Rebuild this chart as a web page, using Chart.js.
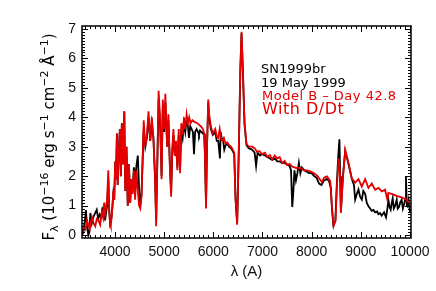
<!DOCTYPE html>
<html>
<head>
<meta charset="utf-8">
<script src="https://cdn.jsdelivr.net/npm/chart.js@4"></script>
<style>
  html, body { margin: 0; padding: 0; background: #fff; }
  canvas { display: block; }
</style>
</head>
<body>
<canvas id="spectrumChart" width="436" height="291"></canvas>
<script>
// Model B (day 42.8, with D/Dt) - wavelength (A) and flux
const modelWave = [
  3330, 3367, 3400, 3433, 3460, 3487, 3510, 3533, 3565, 3600,
  3630, 3667, 3700, 3733, 3760, 3780, 3800, 3840, 3865, 3880,
  3900, 3915, 3933, 3950, 3967, 3985, 4005, 4020, 4040, 4055,
  4075, 4100, 4120, 4140, 4160, 4190, 4210, 4235, 4260, 4285,
  4310, 4335, 4360, 4385, 4410, 4440, 4465, 4490, 4515, 4540,
  4585, 4617, 4650, 4683, 4717, 4750, 4783, 4815, 4838, 4860,
  4888, 4920, 4948, 4973, 5000, 5025, 5062, 5087, 5115, 5142,
  5165, 5189, 5217, 5242, 5269, 5297, 5324, 5349, 5377, 5404,
  5430, 5457, 5484, 5510, 5537, 5575, 5609, 5675, 5742, 5790,
  5815, 5830, 5852, 5872, 5897, 5915, 5950, 5990, 6040, 6070,
  6100, 6130, 6160, 6185, 6215, 6250, 6285, 6320, 6360, 6395,
  6425, 6452, 6485, 6520, 6550, 6574, 6600, 6635, 6675, 6720,
  6790, 6840, 6890, 6940, 6990, 7050, 7095, 7150, 7196, 7250,
  7298, 7350, 7400, 7450, 7500, 7550, 7600, 7650, 7700, 7770,
  7838, 7900, 7973, 8050, 8120, 8176, 8210, 8250, 8311, 8378,
  8412, 8446, 8487, 8513, 8550, 8572, 8594, 8635, 8682, 8750,
  8817, 8885, 8952, 9020, 9088, 9155, 9222, 9290, 9357, 9425,
  9492, 9540, 9560, 9627, 9729, 9830, 9931, 10000
]
const modelFlux = [
  0.0, 0.3, 0.2, 0.5, 0.35, 0.2, 0.45, 0.6, 0.4, 0.3,
  0.55, 0.5, 0.35, 0.8, 0.6, 1.1, 0.7, 1.2, 2.2, 1.0,
  0.4, 0.3, 0.6, 1.0, 1.5, 1.2, 2.5, 1.9, 3.45, 1.7,
  2.7, 3.6, 2.0, 3.8, 2.4, 4.2, 1.5, 3.0, 1.0, 2.4,
  1.1, 1.9, 1.4, 2.2, 1.2, 2.2, 1.5, 1.0, 0.9, 1.3,
  3.9, 3.0, 3.4, 4.2, 3.2, 4.0, 3.2, 1.9, 0.3, 2.4,
  4.9, 3.9, 1.9, 4.6, 3.6, 4.8, 3.0, 4.1, 2.4, 1.3,
  2.9, 3.6, 2.7, 3.2, 2.2, 3.6, 2.1, 3.8, 3.4, 4.0,
  3.6, 4.1, 3.8, 4.0, 3.8, 3.9, 3.85, 3.8, 3.7, 3.6,
  3.45, 2.8, 0.9, 3.0, 4.6, 4.1, 3.7, 3.45, 3.6, 3.35,
  3.3, 3.6, 3.25, 3.2, 3.3, 3.1, 3.15, 3.05, 3.0, 2.9,
  2.8, 1.2, 0.35, 3.0, 5.7, 6.9, 5.7, 3.8, 3.1, 3.0,
  3.0, 2.95, 2.83, 2.85, 2.75, 2.8, 2.66, 2.72, 2.57, 2.7,
  2.6, 2.65, 2.44, 2.52, 2.38, 2.42, 2.33, 2.3, 2.27, 2.28,
  2.2, 2.2, 2.16, 2.1, 2.0, 1.87, 1.8, 1.95, 1.99, 1.83,
  0.97, 0.3, 0.5, 1.65, 2.6, 2.2, 0.75, 1.9, 2.9, 2.45,
  1.92, 1.78, 1.9, 1.65, 1.9, 1.6, 1.75, 1.54, 1.6, 1.48,
  1.54, 1.2, 1.43, 1.4, 1.33, 1.28, 1.2, 1.03
]

// SN1999br, 19 May 1999 - observed spectrum
const obsWave = [
  3330, 3360, 3390, 3410, 3430, 3460, 3480, 3500, 3530, 3560,
  3600, 3630, 3660, 3690, 3720, 3750, 3780, 3800, 3840, 3865,
  3880, 3900, 3930, 3950, 3967, 3985, 4005, 4020, 4040, 4055,
  4075, 4100, 4120, 4140, 4160, 4190, 4210, 4235, 4260, 4285,
  4310, 4335, 4360, 4385, 4410, 4440, 4465, 4490, 4515, 4540,
  4585, 4617, 4650, 4683, 4717, 4750, 4783, 4815, 4838, 4860,
  4888, 4920, 4948, 4973, 5000, 5025, 5062, 5087, 5115, 5142,
  5165, 5189, 5217, 5242, 5269, 5297, 5324, 5349, 5377, 5404,
  5430, 5457, 5484, 5506, 5530, 5560, 5585, 5608, 5630, 5660,
  5690, 5709, 5730, 5760, 5790, 5815, 5830, 5852, 5872, 5897,
  5915, 5950, 5990, 6040, 6070, 6100, 6135, 6150, 6170, 6200,
  6223, 6250, 6285, 6320, 6360, 6395, 6425, 6452, 6485, 6520,
  6550, 6574, 6600, 6635, 6675, 6720, 6790, 6840, 6870, 6900,
  6950, 6990, 7050, 7100, 7150, 7200, 7250, 7300, 7350, 7400,
  7450, 7500, 7550, 7580, 7605, 7625, 7650, 7680, 7710, 7740,
  7770, 7800, 7850, 7900, 7950, 8000, 8050, 8100, 8150, 8200,
  8250, 8300, 8350, 8390, 8412, 8440, 8480, 8513, 8545, 8565,
  8580, 8594, 8635, 8682, 8750, 8817, 8860, 8885, 8920, 8952,
  8985, 9020, 9050, 9088, 9120, 9155, 9190, 9222, 9260, 9290,
  9330, 9357, 9390, 9425, 9450, 9472, 9512, 9540, 9560, 9585,
  9607, 9630, 9648, 9670, 9695, 9729, 9750, 9776, 9800, 9830,
  9855, 9877, 9900, 9918, 9935, 9945, 9972, 10000
]
const obsFlux = [
  0.0, 0.1, 0.5, 0.85, 0.3, 0.0, 0.1, 0.75, 0.4, 0.6,
  0.75, 0.86, 0.55, 0.7, 0.6, 0.9, 1.0, 0.5, 1.0, 1.9,
  0.9, 0.4, 0.6, 1.0, 1.4, 1.2, 2.5, 1.9, 3.45, 1.7,
  2.7, 3.6, 2.0, 3.8, 2.4, 4.2, 1.5, 3.0, 1.0, 2.4,
  1.1, 1.9, 1.6, 2.3, 1.9, 2.4, 2.7, 1.6, 1.0, 1.4,
  3.6, 3.0, 3.3, 4.0, 3.2, 3.8, 3.3, 2.0, 0.5, 2.3,
  4.6, 3.7, 2.0, 4.4, 3.5, 4.5, 3.0, 3.9, 2.5, 1.4,
  2.8, 3.4, 2.7, 3.1, 2.3, 3.4, 2.2, 3.6, 3.3, 3.8,
  3.5, 3.9, 3.7, 3.3, 3.7, 3.6, 3.5, 2.75, 3.5, 3.6,
  3.5, 3.4, 3.55, 3.5, 3.45, 3.4, 2.7, 1.0, 3.0, 4.5,
  4.0, 3.6, 3.4, 3.5, 3.2, 3.2, 2.6, 3.5, 3.3, 3.2,
  2.9, 3.05, 3.1, 3.0, 2.95, 2.85, 2.75, 1.25, 0.4, 3.0,
  5.6, 6.85, 5.6, 3.75, 3.05, 2.95, 2.9, 2.8, 2.35, 2.8,
  2.7, 2.75, 2.7, 2.65, 2.6, 2.55, 2.6, 2.5, 2.5, 2.45,
  2.45, 2.4, 2.35, 2.2, 0.95, 1.4, 2.2, 1.85, 2.1, 2.45,
  2.1, 2.3, 2.2, 2.15, 2.1, 2.1, 2.0, 1.95, 1.75, 1.7,
  1.85, 1.9, 1.85, 1.6, 0.9, 0.35, 0.45, 1.8, 2.8, 3.25,
  2.0, 0.8, 2.0, 2.85, 2.4, 1.9, 1.7, 1.2, 1.4, 1.55,
  1.3, 1.2, 1.5, 1.4, 1.1, 0.98, 0.9, 0.82, 0.85, 0.77,
  0.8, 0.71, 0.75, 0.66, 0.72, 0.77, 0.6, 0.9, 1.2, 0.95,
  0.86, 1.1, 1.25, 0.9, 0.98, 1.2, 0.9, 0.95, 1.1, 1.2,
  0.9, 1.03, 1.2, 2.0, 1.0, 0.98, 1.2, 0.75
]

// axis tick labels
const xTickValues = [4000, 5000, 6000, 7000, 8000, 9000, 10000]
const yTickValues = [0, 1, 2, 3, 4, 5, 6, 7]

const RED = "rgb(228, 0, 0)"

// IDL-style box: frame, inward ticks on all four sides, text labels
const idlFrame = {
  id: "idlFrame",
  afterDraw(chart) {
    const { ctx, chartArea: a, scales } = chart
    const x = scales.x
    const y = scales.y
    ctx.save()

    ctx.strokeStyle = "#000"
    ctx.lineWidth = 1
    ctx.beginPath()
    for (let v = 3400; v < 10020; v += 100) {
      const px = Math.round(x.getPixelForValue(v)) + 0.5
      const len = v % 1000 === 0 ? 6 : 3
      ctx.moveTo(px, a.bottom)
      ctx.lineTo(px, a.bottom - len)
      ctx.moveTo(px, a.top)
      ctx.lineTo(px, a.top + len)
    }
    for (let i = 0; i <= 70; i++) {
      const py = Math.round(y.getPixelForValue(i / 10)) + 0.5
      const len = i % 10 === 0 ? 6 : 3
      ctx.moveTo(a.left, py)
      ctx.lineTo(a.left + len, py)
      ctx.moveTo(a.right, py)
      ctx.lineTo(a.right - len, py)
    }
    ctx.stroke()

    ctx.lineWidth = 1.5
    ctx.strokeRect(a.left, a.top, a.right - a.left, a.bottom - a.top)

    // annotations
    ctx.textBaseline = "alphabetic"
    ctx.textAlign = "left"
    ctx.fillStyle = "#000"
    ctx.font = '13px "DejaVu Sans"'
    ctx.fillText("SN1999br", 261, 73)
    ctx.fillText("19 May 1999", 261, 87)
    ctx.fillStyle = RED
    ctx.letterSpacing = "0.5px"
    ctx.fillText("Model B \u2013 Day 42.8", 262, 100)
    ctx.font = '16px "DejaVu Sans"'
    ctx.fillText("With D/Dt", 262, 114)
    ctx.letterSpacing = "0px"

    // y axis title with sub/superscripts
    const parts = [
      ["F", 0, 15], ["\u03bb", 4, 11], [" (10", 0, 15], ["\u221216", -6, 11],
      [" erg s", 0, 15], ["\u22121", -6, 11], [" cm", 0, 15], ["\u22122", -6, 11],
      [" \u00c5", 0, 15], ["\u22121", -6, 11], [")", 0, 15],
    ]
    let total = 0
    parts.forEach(([t, dy, size]) => {
      ctx.font = `${size}px "DejaVu Sans"`
      total += ctx.measureText(t).width
    })
    ctx.translate(54, 137)
    ctx.rotate(-Math.PI / 2)
    ctx.fillStyle = "#000"
    let cx = -total / 2
    parts.forEach(([t, dy, size]) => {
      ctx.font = `${size}px "DejaVu Sans"`
      ctx.fillText(t, cx, dy)
      cx += ctx.measureText(t).width
    })

    ctx.restore()
  },
}

document.addEventListener("DOMContentLoaded", () => {
  const ctx = document.getElementById("spectrumChart").getContext("2d")
  const tickFont = { family: "'Liberation Sans', Arial, sans-serif", size: 14 }

  new Chart(ctx, {
    type: "line",
    data: {
      datasets: [
        {
          label: "Model B - Day 42.8",
          data: modelWave.map((w, i) => ({ x: w, y: modelFlux[i] })),
          borderColor: RED,
          borderWidth: 1.8,
          pointRadius: 0,
          tension: 0,
          fill: false,
        },
        {
          label: "SN1999br",
          data: obsWave.map((w, i) => ({ x: w, y: obsFlux[i] })),
          borderColor: "#000",
          borderWidth: 1.8,
          pointRadius: 0,
          tension: 0,
          fill: false,
        },
      ],
    },
    options: {
      responsive: false,
      animation: false,
      events: [],
      layout: { padding: { top: 26, right: 25, left: 0, bottom: 0 } },
      plugins: {
        legend: { display: false },
        tooltip: { enabled: false },
      },
      scales: {
        x: {
          type: "linear",
          min: 3330,
          max: 10020,
          afterBuildTicks: (s) => { s.ticks = xTickValues.map((v) => ({ value: v })) },
          afterFit: (s) => { s.height = 53 },
          grid: { display: false, drawTicks: false },
          border: { display: false },
          ticks: {
            font: tickFont,
            color: "#111",
            padding: 6,
            maxRotation: 0,
            autoSkip: false,
            callback: (v) => String(v),
          },
          title: {
            display: true,
            text: "\u03bb (A)",
            font: { family: "'Liberation Sans', Arial, sans-serif", size: 15 },
            color: "#111",
            padding: { top: 0, bottom: 10 },
          },
        },
        y: {
          min: -0.1,
          max: 7.1,
          afterBuildTicks: (s) => { s.ticks = yTickValues.map((v) => ({ value: v })) },
          afterFit: (s) => { s.width = 82 },
          grid: { display: false, drawTicks: false },
          border: { display: false },
          ticks: {
            font: tickFont,
            color: "#111",
            padding: 6,
            autoSkip: false,
            callback: (v) => String(v),
          },
        },
      },
    },
    plugins: [idlFrame],
  })
})
</script>
</body>
</html>
